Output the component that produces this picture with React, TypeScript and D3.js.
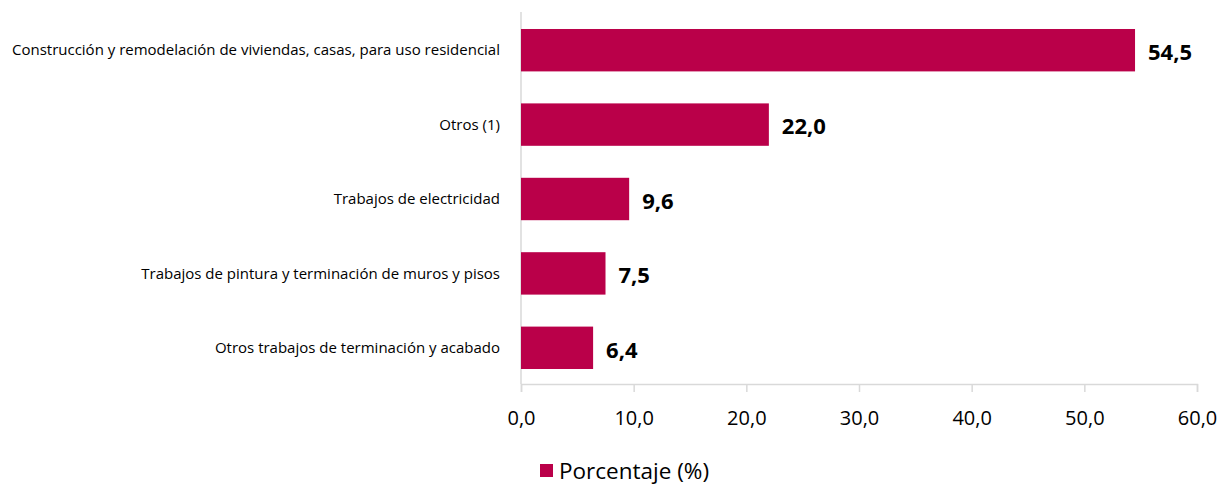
import React, { useEffect, useRef } from "react";
import * as d3 from "d3";

const categories = [
  "Construcción y remodelación de viviendas, casas, para uso residencial",
  "Otros (1)",
  "Trabajos de electricidad",
  "Trabajos de pintura y terminación de muros y pisos",
  "Otros trabajos de terminación y acabado",
];
const values = [54.5, 22.0, 9.6, 7.5, 6.4];
const xTicks = [0, 10, 20, 30, 40, 50, 60];
const seriesName = "Porcentaje (%)";

const fmt = (v: number) => v.toFixed(1).replace(".", ",");

export default function App() {
  const ref = useRef<SVGSVGElement>(null);

  useEffect(() => {
    const svg = d3.select(ref.current);
    svg.selectAll("*").remove();
    const font = "'Open Sans', 'Noto Sans', sans-serif";
    const color = "#BA0049";

    const x = d3.scaleLinear().domain([0, 60]).range([521, 1197]);
    const y = d3
      .scaleBand()
      .domain(categories)
      .range([13, 385])
      .paddingInner(0.43)
      .paddingOuter(0.215);

    // vertical axis line
    svg.append("line")
      .attr("x1", x(0)).attr("x2", x(0))
      .attr("y1", 12).attr("y2", 384)
      .attr("stroke", "#d9d9d9").attr("stroke-width", 1.5);

    const xAxis = svg.append("g")
      .attr("transform", "translate(0,384)")
      .call(
        d3.axisBottom(x).tickValues(xTicks).tickSize(8).tickPadding(19)
          .tickFormat((d) => fmt(d as number))
      );
    xAxis.select(".domain").attr("stroke", "#d9d9d9").attr("stroke-width", 1.5);
    xAxis.selectAll(".tick line").attr("stroke", "#d9d9d9").attr("stroke-width", 1.5);
    xAxis.selectAll("text")
      .attr("font-family", font)
      .attr("font-size", "20px")
      .attr("fill", "#000");

    // bars
    svg.selectAll("rect.bar")
      .data(values)
      .enter()
      .append("rect")
      .attr("class", "bar")
      .attr("x", x(0))
      .attr("y", (d, i) => y(categories[i]) as number)
      .attr("width", (d) => x(d) - x(0))
      .attr("height", y.bandwidth())
      .attr("fill", color);

    // category labels
    svg.selectAll("text.cat")
      .data(categories)
      .enter()
      .append("text")
      .attr("class", "cat")
      .attr("x", 500)
      .attr("y", (d) => (y(d) as number) + y.bandwidth() / 2)
      .attr("dy", "0.35em")
      .attr("text-anchor", "end")
      .attr("font-family", font)
      .attr("font-size", "15px")
      .attr("fill", "#000")
      .text((d) => d);

    // value labels
    svg.selectAll("text.val")
      .data(values)
      .enter()
      .append("text")
      .attr("class", "val")
      .attr("x", (d) => x(d) + 13)
      .attr("y", (d, i) => (y(categories[i]) as number) + y.bandwidth() / 2 + 2)
      .attr("dy", "0.35em")
      .attr("font-family", font)
      .attr("font-size", "22px")
      .attr("font-weight", "bold")
      .attr("fill", "#000")
      .text((d) => fmt(d));

    // legend
    const legend = svg.append("g").attr("transform", "translate(540,464)");
    legend.append("rect").attr("width", 13).attr("height", 13).attr("fill", color);
    legend.append("text")
      .attr("x", 19)
      .attr("y", 7)
      .attr("dy", "0.35em")
      .attr("font-family", font)
      .attr("font-size", "22.5px")
      .attr("fill", "#000")
      .text(seriesName);
  }, []);

  return (
    <svg
      ref={ref}
      width={1219}
      height={487}
      style={{ position: "absolute", left: 0, top: 0, background: "#fff" }}
    />
  );
}
